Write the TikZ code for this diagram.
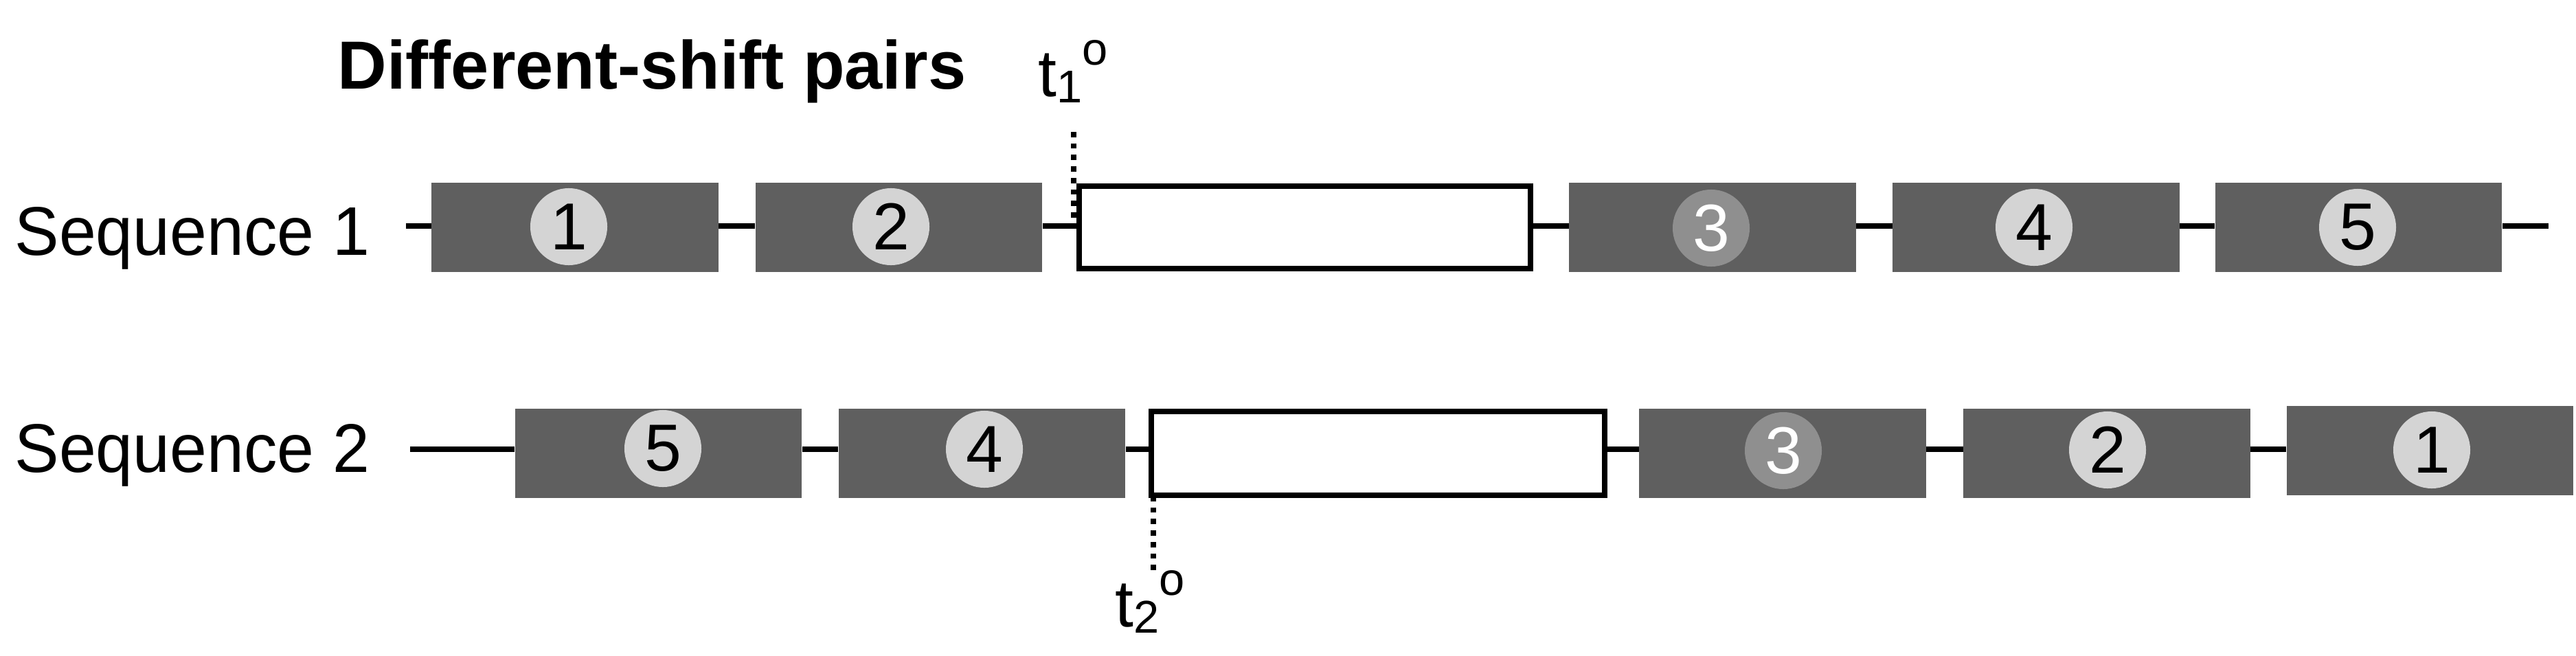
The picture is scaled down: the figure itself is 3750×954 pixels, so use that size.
\documentclass[tikz,border=0pt]{standalone}
\usepackage{fontspec}
\setmainfont{Liberation Sans}
\definecolor{boxgray}{RGB}{95,95,95}
\definecolor{circlight}{RGB}{212,212,212}
\definecolor{circdark}{RGB}{143,143,143}
\newcommand\mytlab[1]{t\raisebox{-0.09cm}{\fontsize{19pt}{20pt}\selectfont #1}\raisebox{0.45cm}{\fontsize{19pt}{20pt}\selectfont o}}
\begin{document}
\begin{tikzpicture}[x=0.01cm,y=-0.01cm,
 gbox/.style={fill=boxgray, draw=none, minimum width=4.17cm, minimum height=1.3cm, inner sep=0pt},
 wbox/.style={draw=black, fill=white, line width=0.08cm, inner sep=0pt},
 num/.style={circle, fill=circlight, minimum size=1.12cm, inner sep=0pt, font=\fontsize{27.5pt}{30pt}\selectfont},
 numdark/.style={num, fill=circdark, text=white},
 conn/.style={line width=0.08cm},
 marker/.style={line width=0.08cm, dash pattern=on 0.077cm off 0.09cm},
 lbl/.style={inner sep=0pt, anchor=base west, font=\fontsize{27.5pt}{30pt}\selectfont},
 seqlbl/.style={lbl, font=\fontsize{28.5pt}{30pt}\selectfont},
]
\useasboundingbox (0,0) rectangle (3750,954);
\fill[white] (0,0) rectangle (3750,954);

% labels
\node[seqlbl] (seq1) at (21,371) {\scalebox{0.965}[1]{Sequence 1}};
\node[seqlbl] (seq2) at (21,687) {\scalebox{0.965}[1]{Sequence 2}};
\node[lbl, font=\bfseries\fontsize{28.2pt}{30pt}\selectfont] (title) at (491,129) {Different-shift pairs};
\node[lbl] (t1) at (1511,140) {\mytlab{1}};
\node[lbl] (t2) at (1623,912) {\mytlab{2}};

% row 1 boxes
\node[gbox] (a1) at (837,331) {};
\node[gbox] (a2) at (1308.5,331) {};
\node[wbox, minimum width=6.57cm, minimum height=1.2cm] (w1) at (1899.5,331) {};
\node[gbox] (a3) at (2493,331) {};
\node[gbox] (a4) at (2964,331) {};
\node[gbox] (a5) at (3433.5,331) {};
\node[num] (n11) at (828,330) {1};
\node[num] (n12) at (1297,330) {2};
\node[numdark] (n13) at (2491,332) {3};
\node[num] (n14) at (2961,331) {4};
\node[num] (n15) at (3432,331) {5};

% row 2 boxes
\node[gbox] (b5) at (958.5,660) {};
\node[gbox] (b4) at (1429.5,660) {};
\node[wbox, minimum width=6.60cm, minimum height=1.22cm] (w2) at (2006,660) {};
\node[gbox] (b3) at (2595,660) {};
\node[gbox] (b2) at (3067,660) {};
\node[gbox] (b1) at (3537.5,656) {};
\node[num] (n25) at (965,653) {5};
\node[num] (n24) at (1433,654) {4};
\node[numdark] (n23) at (2596,656) {3};
\node[num] (n22) at (3068,655) {2};
\node[num] (n21) at (3540,655) {1};

% row 1 connectors
\coordinate (s1) at (591,329);
\coordinate (e1) at (3710,329);
\draw[conn] (s1) -- (a1.west |- s1);
\draw[conn] (a1.east |- s1) -- (a2.west |- s1);
\draw[conn] (a2.east |- s1) -- (w1.west |- s1);
\draw[conn] (w1.east |- s1) -- (a3.west |- s1);
\draw[conn] (a3.east |- s1) -- (a4.west |- s1);
\draw[conn] (a4.east |- s1) -- (a5.west |- s1);
\draw[conn] (a5.east |- s1) -- (e1);

% row 2 connectors
\coordinate (s2) at (597,653.5);
\draw[conn] (s2) -- (b5.west |- s2);
\draw[conn] (b5.east |- s2) -- (b4.west |- s2);
\draw[conn] (b4.east |- s2) -- (w2.west |- s2);
\draw[conn] (w2.east |- s2) -- (b3.west |- s2);
\draw[conn] (b3.east |- s2) -- (b2.west |- s2);
\draw[conn] (b2.east |- s2) -- (b1.west |- s2);

% time markers
\coordinate (d1top) at (1562.5,192);
\coordinate (d1bot) at (1562.5,322);
\draw[marker] (d1top) -- (d1bot);
\coordinate (d2top) at (1679,722);
\coordinate (d2bot) at (1679,833);
\draw[marker] (d2top) -- (d2bot);
\end{tikzpicture}
\end{document}
